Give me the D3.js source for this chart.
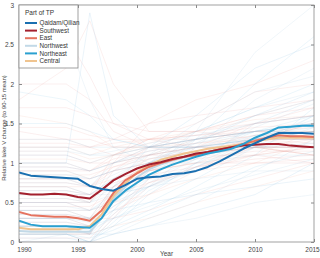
<!DOCTYPE html>
<html>
<head>
<meta charset="utf-8">
<script src="https://d3js.org/d3.v7.min.js"></script>
<style>
  body { margin: 0; background: #fff; }
  text { font-family: "Liberation Sans", Arial, sans-serif; }
</style>
</head>
<body>
<svg id="chart" width="320" height="258"></svg>
<script>

var years = d3.range(1990, 2016)
var regions = ["Qaidam/Qilian", "Southwest", "East", "Northwest", "Northeast", "Central"]
var colors = ["#1a6fb0", "#a3202e", "#e5735f", "#c2d9e7", "#2aa0d0", "#f0c48f"]
var faint = ["#8cc0e0", "#e8a3a3", "#eba8a0", "#a9cbe0", "#8fcbe6", "#f1b9a6"]

// regional mean curves, 1990..2015
var qaidam    = [0.88,0.84,0.83,0.82,0.81,0.80,0.71,0.67,0.65,0.72,0.80,0.82,0.83,0.86,0.87,0.90,0.95,1.02,1.10,1.18,1.25,1.32,1.38,1.38,1.38,1.37]
var southwest = [0.62,0.60,0.60,0.61,0.60,0.57,0.55,0.66,0.78,0.86,0.93,0.98,1.01,1.05,1.08,1.12,1.14,1.17,1.20,1.22,1.23,1.24,1.24,1.22,1.21,1.20]
var east      = [0.38,0.34,0.33,0.32,0.32,0.30,0.27,0.40,0.62,0.78,0.87,0.95,1.00,1.04,1.08,1.10,1.14,1.17,1.20,1.24,1.28,1.32,1.35,1.34,1.34,1.33]
var northwest = [0.14,0.13,0.13,0.13,0.13,0.13,0.13,0.30,0.55,0.70,0.82,0.92,0.98,1.03,1.07,1.10,1.14,1.17,1.20,1.23,1.27,1.31,1.34,1.34,1.33,1.33]
var northeast = [0.27,0.22,0.20,0.20,0.20,0.19,0.18,0.30,0.52,0.65,0.75,0.85,0.92,0.98,1.03,1.08,1.12,1.15,1.18,1.24,1.32,1.38,1.45,1.46,1.47,1.47]
var central   = [0.18,0.16,0.16,0.16,0.16,0.16,0.20,0.35,0.58,0.74,0.88,0.97,1.04,1.08,1.12,1.15,1.18,1.20,1.22,1.24,1.27,1.30,1.32,1.32,1.32,1.32]
var means = [qaidam, southwest, east, northwest, northeast, central]

// individual lakes, sampled at these years
var lakeYears = [1990, 1994, 1996, 1998, 2001, 2005, 2010, 2015]
var lakeRegion = [1,1,2,2,5,1,2,5,1,2,1,2,5,2,1,2,5,1,2,5,1,2,1,2,5,1,2,5,1,2,
                  0,3,4,3,0,4,3,0,4,3,0,4,3,4,0,3,4,0,3,4,0,3,4,0,3,4,0,3,
                  1,2,5,1,2,5,1,2,1,2,5,2,1,2,
                  4,3,0,4,3,0,4,3,0,4,3,4,0,3]
var lakeValues = [
  [0.1,0.1,0.1,0.6,1.0,1.1,1.2,1.2],[0.3,0.3,0.2,0.7,1.0,1.1,1.3,1.3],
  [0.5,0.5,0.4,0.8,0.9,1.0,1.2,1.1],[0.7,0.7,0.7,0.9,1.0,1.1,1.2,1.2],
  [0.9,0.9,0.8,1.0,1.1,1.2,1.2,1.1],[1.1,1.1,1.0,1.0,1.1,1.1,1.2,1.2],
  [1.3,1.3,1.2,1.1,1.1,1.2,1.3,1.2],[1.6,1.5,1.4,1.2,1.2,1.3,1.4,1.4],
  [2.4,2.6,2.1,1.5,1.3,1.2,1.2,1.1],[1.8,2.2,2.8,2.0,1.4,1.4,1.5,1.6],
  [0.0,0.0,0.0,0.3,0.8,1.2,1.5,1.6],[0.2,0.2,0.2,0.4,0.6,0.9,1.3,1.5],
  [0.4,0.4,0.4,0.5,0.6,0.8,1.0,1.3],[0.6,0.6,0.6,0.7,0.8,0.9,1.1,1.4],
  [0.8,0.8,0.8,0.9,1.0,1.1,1.3,1.5],[1.0,1.0,0.9,1.0,1.2,1.3,1.5,1.7],
  [1.2,1.2,1.1,1.2,1.3,1.4,1.6,1.8],[0.5,0.5,0.5,0.9,1.2,1.4,1.6,1.7],
  [0.3,0.3,0.3,0.3,0.4,0.6,0.8,1.0],[0.1,0.1,0.1,0.2,0.3,0.5,0.7,0.9],
  [1.4,1.3,1.3,1.2,1.2,1.1,1.1,1.0],[0.9,0.9,0.9,1.1,1.3,1.5,1.9,2.0],
  [2.0,2.0,1.8,1.4,1.2,1.2,1.2,1.2],[0.6,0.6,0.5,1.0,1.5,1.8,2.0,2.3],
  [0.2,0.2,0.1,0.6,1.1,1.3,1.4,1.4],[1.2,1.2,1.2,1.3,1.5,1.6,1.7,1.8],
  [0.8,0.8,0.7,0.8,0.9,1.0,1.0,1.0],[0.4,0.4,0.3,0.6,0.9,1.0,1.1,1.2],
  [1.7,1.7,1.6,1.5,1.4,1.4,1.3,1.3],[0.7,0.7,0.6,1.1,1.3,1.3,1.4,1.3],
  [0.0,0.0,0.0,0.2,0.6,1.0,1.5,1.8],[0.1,0.1,0.0,0.3,0.7,1.2,1.8,2.2],
  [0.2,0.2,0.2,0.4,0.8,1.3,2.0,2.6],[0.3,0.3,0.2,0.5,0.9,1.4,2.4,3.0],
  [0.5,0.5,0.4,0.6,1.0,1.3,1.6,1.8],[0.7,0.7,0.6,0.8,1.0,1.2,1.4,1.5],
  [0.9,0.9,0.8,0.9,1.1,1.3,1.5,1.6],[1.1,1.1,1.0,1.1,1.2,1.3,1.4,1.4],
  [1.3,1.3,1.2,1.2,1.2,1.2,1.3,1.3],[0.0,0.1,0.0,0.1,0.3,0.5,0.9,1.3],
  [0.1,0.1,0.1,0.1,0.2,0.4,0.6,1.0],[0.2,0.2,0.1,0.2,0.4,0.7,1.1,1.7],
  [3.0,2.6,1.8,1.2,1.0,1.0,1.1,1.1],[1.9,1.8,1.6,1.3,1.2,1.3,1.4,1.5],
  [0.4,0.4,0.3,0.7,1.2,1.6,2.2,2.5],[0.6,0.6,0.5,0.8,1.1,1.5,1.9,2.1],
  [0.1,0.1,0.0,0.4,0.9,1.1,1.4,1.6],[0.3,0.3,0.3,0.4,0.5,0.6,0.7,0.8],
  [0.5,0.5,0.5,0.6,0.7,0.9,1.2,1.6],[1.5,1.5,1.4,1.3,1.2,1.2,1.3,1.4],
  [0.8,0.8,0.7,1.0,1.2,1.3,1.4,1.5],[0.2,0.2,0.1,0.5,1.0,1.4,1.7,1.9],
  [1.0,1.0,0.9,1.0,1.1,1.2,1.2,1.2],[0.4,0.4,0.4,0.5,0.7,1.0,1.3,1.4],
  [0.0,0.0,0.0,0.1,0.2,0.3,0.5,0.6],[1.2,1.2,1.1,1.1,1.2,1.4,1.7,2.0],
  [1.0,1.0,2.9,1.6,1.2,1.2,1.3,1.3],[0.6,0.6,0.6,0.6,0.7,0.8,0.9,0.9],
  [0.15,0.15,0.1,0.5,0.9,1.05,1.15,1.15],[0.35,0.35,0.3,0.7,1.0,1.15,1.25,1.2],
  [0.55,0.55,0.5,0.8,1.05,1.15,1.3,1.3],[0.75,0.75,0.7,0.95,1.1,1.2,1.35,1.35],
  [0.95,0.95,0.9,1.05,1.15,1.25,1.3,1.25],[1.15,1.15,1.05,1.1,1.2,1.25,1.35,1.4],
  [0.25,0.25,0.2,0.45,0.75,0.95,1.1,1.2],[0.45,0.45,0.45,0.6,0.75,0.9,1.0,1.05],
  [0.65,0.65,0.6,0.75,0.85,0.95,1.05,1.1],[0.85,0.85,0.85,0.95,1.05,1.15,1.3,1.4],
  [1.05,1.05,1.0,1.1,1.25,1.4,1.55,1.6],[1.25,1.25,1.2,1.25,1.3,1.35,1.4,1.45],
  [0.05,0.05,0.05,0.35,0.7,0.95,1.2,1.3],[1.45,1.45,1.35,1.3,1.3,1.35,1.45,1.5],
  [0.05,0.05,0.0,0.25,0.65,0.95,1.3,1.55],[0.15,0.15,0.1,0.35,0.75,1.05,1.35,1.5],
  [0.35,0.35,0.3,0.5,0.85,1.1,1.3,1.4],[0.55,0.55,0.5,0.7,0.95,1.15,1.35,1.45],
  [0.75,0.75,0.7,0.85,1.05,1.2,1.3,1.35],[0.95,0.95,0.9,1.0,1.15,1.25,1.4,1.5],
  [0.25,0.25,0.2,0.3,0.5,0.8,1.2,1.45],[0.45,0.45,0.4,0.55,0.8,1.05,1.45,1.75],
  [0.65,0.65,0.6,0.8,1.0,1.25,1.6,1.9],[0.1,0.1,0.05,0.15,0.35,0.6,0.95,1.15],
  [1.15,1.15,1.1,1.15,1.25,1.35,1.5,1.6],[0.3,0.3,0.25,0.45,0.7,0.95,1.25,1.6],
  [0.85,0.85,0.8,0.9,1.0,1.1,1.2,1.25],[0.2,0.2,0.15,0.3,0.45,0.65,0.85,1.05]
]

var xTicks = [1990, 1995, 2000, 2005, 2010, 2015]
var yTicks = [0, 0.5, 1, 1.5, 2, 2.5, 3]

var margin = {top: 5, right: 6, bottom: 16, left: 19}
var width = 320, height = 258

var x = d3.scaleLinear().domain([1990, 2015]).range([margin.left, width - margin.right])
var y = d3.scaleLinear().domain([0, 3]).range([height - margin.bottom, margin.top])

var svg = d3.select("#chart")

svg.append("clipPath").attr("id", "plot")
  .append("rect")
  .attr("x", x(1990)).attr("y", y(3))
  .attr("width", x(2015) - x(1990)).attr("height", y(0) - y(3))

var g = svg.append("g").attr("clip-path", "url(#plot)")

// faint lake lines
var lakeLine = d3.line().x((d, i) => x(lakeYears[i])).y(d => y(d))
g.selectAll(".lake")
  .data(lakeValues)
  .join("path")
  .attr("class", "lake")
  .attr("d", lakeLine)
  .attr("fill", "none")
  .attr("stroke", (d, i) => faint[lakeRegion[i]])
  .attr("stroke-width", 0.5)
  .attr("opacity", 0.35)

// regional means
var meanLine = d3.line().x((d, i) => x(years[i])).y(d => y(d))
var drawOrder = [3, 5, 2, 1, 4, 0]
g.selectAll(".mean")
  .data(drawOrder)
  .join("path")
  .attr("class", "mean")
  .attr("d", k => meanLine(means[k]))
  .attr("fill", "none")
  .attr("stroke", k => colors[k])
  .attr("stroke-width", 2)
  .attr("stroke-linejoin", "round")

// frame and inward ticks
var axisColor = "#8a8a8a"
svg.append("rect")
  .attr("x", x(1990)).attr("y", y(3))
  .attr("width", x(2015) - x(1990)).attr("height", y(0) - y(3))
  .attr("fill", "none").attr("stroke", axisColor).attr("stroke-width", 0.8)

svg.append("g")
  .attr("transform", `translate(0,${y(0)})`)
  .call(d3.axisBottom(x).tickValues(xTicks).tickFormat(d3.format("d")).tickSizeInner(-3).tickSizeOuter(0).tickPadding(5))
  .call(g => g.select(".domain").remove())
  .call(g => g.selectAll("line").attr("stroke", axisColor))
  .call(g => g.selectAll("text").attr("fill", "#444").attr("font-size", 6.5).attr("font-family", "Liberation Sans, Arial, sans-serif"))
  .call(g => g.selectAll("text").filter(d => d === 1990).attr("dx", 5))
  .call(g => g.selectAll("text").filter(d => d === 2015).attr("dx", -2))

svg.append("g")
  .attr("transform", `translate(0,${y(3)})`)
  .call(d3.axisTop(x).tickValues(xTicks).tickFormat("").tickSizeInner(-3).tickSizeOuter(0))
  .call(g => g.select(".domain").remove())
  .call(g => g.selectAll("line").attr("stroke", axisColor))

svg.append("g")
  .attr("transform", `translate(${x(1990)},0)`)
  .call(d3.axisLeft(y).tickValues(yTicks).tickFormat(d3.format("")).tickSizeInner(-3).tickSizeOuter(0).tickPadding(5))
  .call(g => g.select(".domain").remove())
  .call(g => g.selectAll("line").attr("stroke", axisColor))
  .call(g => g.selectAll("text").attr("fill", "#444").attr("font-size", 6.5).attr("font-family", "Liberation Sans, Arial, sans-serif"))

svg.append("g")
  .attr("transform", `translate(${x(2015)},0)`)
  .call(d3.axisRight(y).tickValues(yTicks).tickFormat("").tickSizeInner(-3).tickSizeOuter(0))
  .call(g => g.select(".domain").remove())
  .call(g => g.selectAll("line").attr("stroke", axisColor))

// axis titles
svg.append("text")
  .attr("x", (x(1990) + x(2015)) / 2).attr("y", 256)
  .attr("text-anchor", "middle").attr("font-size", 6.5).attr("fill", "#444")
  .text("Year")

svg.append("text")
  .attr("transform", `translate(6,${128}) rotate(-90)`)
  .attr("text-anchor", "middle").attr("font-size", 6).attr("fill", "#444")
  .text("Relative lake V change (to 90-15 mean)")

// legend
var legend = svg.append("g")
legend.append("rect")
  .attr("x", x(1990)).attr("y", y(3))
  .attr("width", 59).attr("height", 63)
  .attr("fill", "#fff").attr("stroke", axisColor).attr("stroke-width", 0.8)
legend.append("text")
  .attr("x", 25).attr("y", 15)
  .attr("font-size", 6.5).attr("fill", "#333")
  .text("Part of TP")
var item = legend.selectAll(".item")
  .data(regions)
  .join("g")
  .attr("transform", (d, i) => `translate(0,${23 + i * 7.6})`)
item.append("line")
  .attr("x1", 25).attr("x2", 37)
  .attr("stroke", (d, i) => colors[i]).attr("stroke-width", 2)
item.append("text")
  .attr("x", 39.5).attr("y", 2.2)
  .attr("font-size", 6.3).attr("fill", "#333")
  .text(d => d)

</script>
</body>
</html>
